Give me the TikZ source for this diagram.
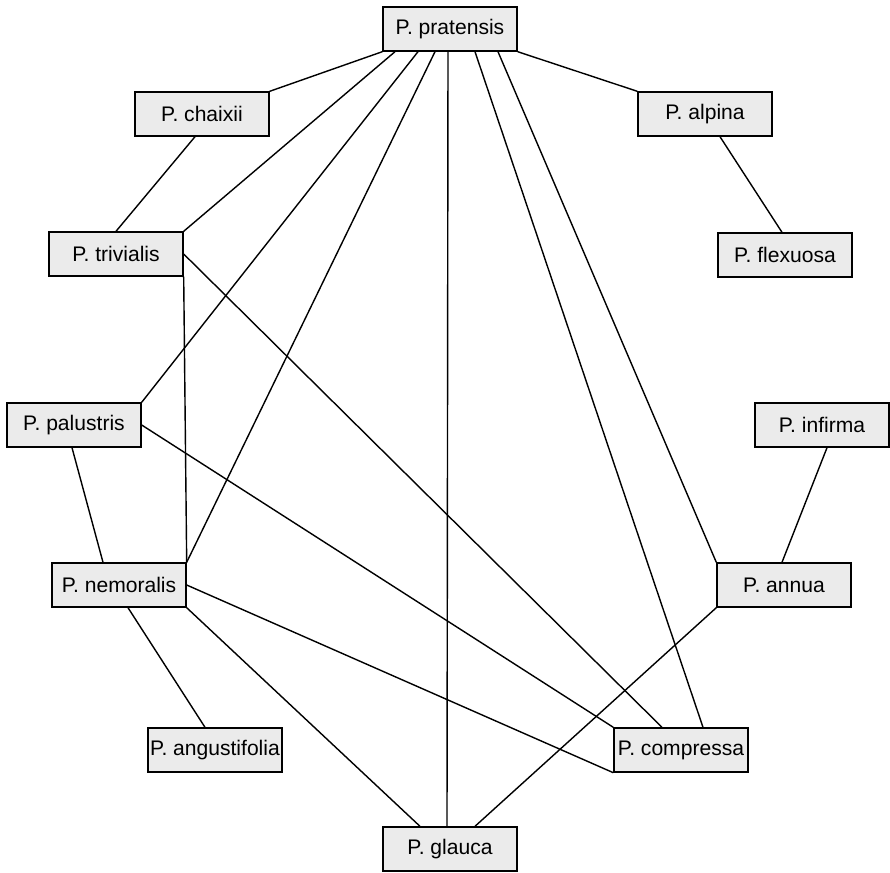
\documentclass[tikz,border=0pt]{standalone}
\usepackage{fontspec}
\setmainfont{Liberation Sans}
\usepackage{tikz}
\usetikzlibrary{calc, positioning}
\definecolor{cBox}{RGB}{235,235,235}
\tikzset{
	taxon/.style={rectangle, draw=black, line width=0.8pt, fill=cBox, minimum width=2.68cm, minimum height=0.88cm, inner sep=0pt, align=center, font=\fontsize{12}{14}\selectfont},
	rel/.style  ={line width=0.8pt, black},
}
\begin{document}
\begin{tikzpicture}[x=0.02cm, y=-0.02cm]
	\useasboundingbox (0,0) rectangle (890,873);
	% ---- species ----
	\node[taxon] (prat) at (450,29)  {P. pratensis};
	\node[taxon] (chai) at (202,114) {P. chaixii};
	\node[taxon] (alpi) at (705,114) {P. alpina};
	\node[taxon] (triv) at (116,254) {P. trivialis};
	\node[taxon] (flex) at (785,255) {P. flexuosa};
	\node[taxon] (palu) at (74,425)  {P. palustris};
	\node[taxon] (infi) at (822,425) {P. infirma};
	\node[taxon] (nemo) at (119,585) {P. nemoralis};
	\node[taxon] (annu) at (784,585) {P. annua};
	\node[taxon] (angu) at (215,750) {P. angustifolia};
	\node[taxon] (comp) at (681,750) {P. compressa};
	\node[taxon] (glau) at (450,849) {P. glauca};
	% ---- links from P. pratensis ----
	\draw[rel] (chai.north east) -- (prat.south west);
	\draw[rel] (alpi.north west) -- (prat.south east);
	\draw[rel] ($(prat.south)+(-55,0)$) -- (triv.north east);
	\draw[rel] ($(prat.south)+(-32,0)$) -- (palu.north east);
	\draw[rel] ($(prat.south)+(-15,0)$) -- (nemo.north east);
	\draw[rel] ($(prat.south)+(-2,0)$) -- ($(glau.north)+(-3,0)$);
	\draw[rel] ($(prat.south)+(25,0)$) -- ($(comp.north)+(22,0)$);
	\draw[rel] ($(prat.south)+(48,0)$) -- (annu.north west);
	% ---- other links ----
	\draw[rel] ($(chai.south)+(-7,0)$) -- (triv.north);
	\draw[rel] ($(alpi.south)+(15,0)$) -- ($(flex.north)+(-3,0)$);
	\draw[rel] (triv.south east) -- (nemo.north east);
	\draw[rel] (triv.east) -- ($(comp.north)+(-19,0)$);
	\draw[rel] ($(palu.south)+(-2,0)$) -- ($(nemo.north)+(-16,0)$);
	\draw[rel] (palu.east) -- (comp.north west);
	\draw[rel] (nemo.east) -- (comp.south west);
	\draw[rel] (nemo.south east) -- ($(glau.north)+(-30,0)$);
	\draw[rel] ($(nemo.south)+(9,0)$) -- ($(angu.north)+(-10,0)$);
	\draw[rel] ($(infi.south)+(5,0)$) -- ($(annu.north)+(-2,0)$);
	\draw[rel] (annu.south west) -- ($(glau.north)+(25,0)$);
\end{tikzpicture}
\end{document}
